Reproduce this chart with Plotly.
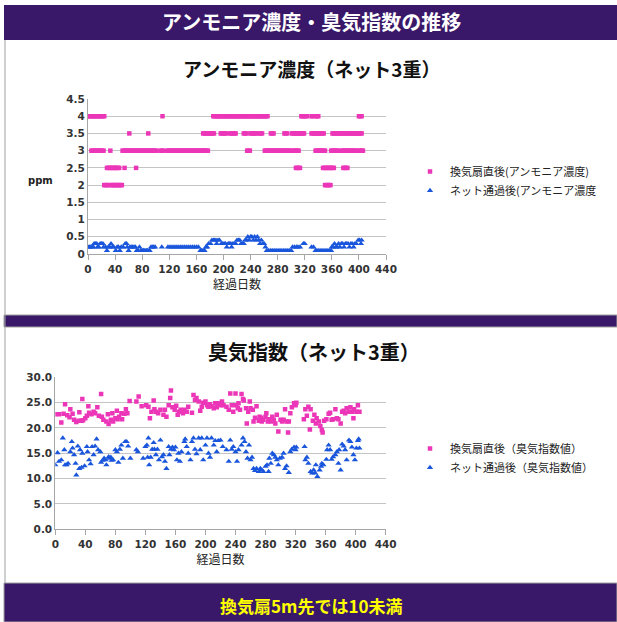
import plotly.graph_objects as go

# ---------------- data ----------------
# Ammonia concentration (ppm) right after fan, grouped by level (days)
amm_fan_days_40 = [0, 2, 4, 6, 8, 10, 12, 14, 16, 18, 20, 22, 24, 110,
                   185, 187, 189, 191, 193, 195, 197, 199, 201, 203, 205, 207, 209, 211, 213, 215,
                   217, 219, 221, 223, 225, 227, 229, 231, 233, 235, 237, 239, 241, 243, 245, 247,
                   249, 251, 253, 255, 257, 259, 261, 263, 265,
                   315, 317, 319, 321, 323, 330, 331, 336, 338, 340, 400, 402, 404]
amm_fan_days_35 = [61, 89, 170, 172, 174, 176, 178, 180, 182, 184, 186,
                   196, 198, 200, 202, 204, 210, 212, 214, 216, 218, 230, 232, 234,
                   240, 242, 244, 246, 248, 253, 255, 257, 270, 272, 274, 290, 292, 294,
                   301, 303, 305, 307, 309, 311, 313, 315, 317, 319,
                   330, 332, 334, 336, 338, 340, 342, 344, 346, 348,
                   361, 363, 365, 367, 369, 371, 373, 375, 377, 379,
                   382, 384, 386, 388, 390, 392, 394, 396, 398, 400, 402, 404]
amm_fan_days_30 = [5, 7, 9, 11, 13, 15, 17, 19, 21, 23, 33,
                   51, 53, 55, 57, 59, 61, 63, 65, 67, 69, 71, 73, 75, 77, 79, 81, 83, 85, 87, 89,
                   91, 93, 95, 97, 99, 101, 107, 109, 111,
                   117, 119, 121, 123, 125, 127, 129, 131, 133, 135, 137, 139, 141, 143, 145, 147,
                   149, 151, 153, 155, 157, 159, 161, 163, 165, 167, 169, 171, 173, 175, 177,
                   235, 237, 239,
                   261, 263, 265, 267, 269, 271, 273, 275, 277, 279, 281, 283, 285, 287, 289, 291,
                   293, 295, 297, 299, 303, 305, 307, 309, 311,
                   336, 338, 340, 342, 344, 346, 348, 350, 359, 361, 363, 365, 367, 369,
                   374, 376, 378, 380, 382, 384, 386, 388, 390, 392, 394, 396, 400, 402, 404, 406]
amm_fan_days_25 = [28, 30, 32, 34, 36, 38, 40, 42, 44, 46, 54, 71, 307, 309, 311, 313,
                   347, 349, 351, 353, 355, 357, 359, 361, 363, 377, 379, 381, 383]
amm_fan_days_20 = [24, 26, 28, 30, 34, 36, 38, 40, 42, 44, 46, 48, 50,
                   350, 352, 354, 356, 358]

# Ammonia concentration (ppm) after passing the net
amm_net_days = [0, 2, 4, 6, 8, 9, 11, 13, 14, 16, 18, 20, 22, 23, 26, 28, 30, 32, 34, 36, 38,
                41, 43, 45, 47, 49, 52, 55, 57, 58, 60, 62, 64, 66, 68, 70, 72, 74, 76, 78, 80,
                82, 84, 86, 88, 91, 93, 95, 97, 99, 109, 118, 121, 124, 127, 130, 133, 136, 139,
                142, 145, 148, 151, 154, 157, 160, 163, 166, 168, 170, 172, 174, 176, 178, 181,
                183, 185, 187, 189, 190, 192, 194, 197, 199, 201, 203, 205, 207, 209, 211, 212,
                214, 216, 218, 220, 222, 224, 226, 228, 230, 232, 234, 236, 238, 240, 242, 244,
                246, 248, 250, 252, 254, 256, 258, 260, 262, 264, 267, 270, 273, 276, 279, 282,
                285, 288, 291, 294, 297, 300, 302, 305, 308, 310, 313, 318, 320, 330, 333, 336,
                338, 341, 344, 347, 350, 353, 356, 359, 360, 362, 364, 366, 368, 370, 372, 374,
                376, 378, 380, 382, 384, 386, 388, 390, 392, 394, 396, 399, 401, 403, 404]
amm_net_ppm = [0.2, 0.2, 0.2, 0.2, 0.2, 0.3, 0.3, 0.3, 0.2, 0.2, 0.3, 0.3, 0.3, 0.2, 0.2, 0.1, 0.2,
               0.2, 0.3, 0.2, 0.2, 0.1, 0.2, 0.2, 0.1, 0.2, 0.2, 0.3, 0.3, 0.2, 0.1, 0.2, 0.2, 0.2,
               0.2, 0.2, 0.1, 0.1, 0.2, 0.1, 0.1, 0.1, 0.1, 0.1, 0.1, 0.1, 0.2, 0.2, 0.2, 0.2, 0.2,
               0.2, 0.2, 0.2, 0.2, 0.2, 0.2, 0.2, 0.2, 0.2, 0.2, 0.2, 0.2, 0.2, 0.2, 0.2, 0.2, 0.1,
               0.1, 0.1, 0.1, 0.2, 0.2, 0.3, 0.3, 0.4, 0.4, 0.4, 0.4, 0.3, 0.4, 0.4, 0.3, 0.3, 0.3,
               0.3, 0.2, 0.3, 0.3, 0.3, 0.2, 0.3, 0.3, 0.3, 0.4, 0.4, 0.4, 0.3, 0.3, 0.3, 0.4, 0.4,
               0.5, 0.4, 0.5, 0.5, 0.4, 0.5, 0.4, 0.5, 0.4, 0.3, 0.4, 0.3, 0.3, 0.2, 0.1, 0.1, 0.1,
               0.1, 0.1, 0.1, 0.1, 0.1, 0.1, 0.1, 0.1, 0.1, 0.1, 0.2, 0.2, 0.2, 0.2, 0.2, 0.3, 0.3,
               0.2, 0.2, 0.1, 0.1, 0.1, 0.1, 0.1, 0.1, 0.1, 0.1, 0.1, 0.2, 0.2, 0.3, 0.2, 0.2, 0.3,
               0.2, 0.3, 0.3, 0.2, 0.3, 0.3, 0.3, 0.2, 0.3, 0.3, 0.2, 0.3, 0.3, 0.4, 0.4, 0.3, 0.4]

# Odour index right after fan
odor_fan_days = [0, 5, 8, 11, 13, 16, 19, 20, 23, 25, 28, 31, 32, 35, 36, 37, 40, 42, 44, 45, 48,
                 51, 53, 56, 58, 61, 62, 64, 68, 70, 71, 74, 76, 77, 80, 82, 83, 85, 88, 89, 92,
                 94, 96, 99, 108, 111, 115, 121, 124, 126, 128, 131, 132, 134, 137, 140, 144, 146,
                 148, 151, 153, 154, 156, 159, 161, 163, 165, 167, 170, 172, 175, 177, 182, 184,
                 186, 188, 191, 193, 195, 197, 200, 202, 204, 206, 208, 211, 213, 215, 218, 220,
                 222, 224, 228, 231, 233, 235, 237, 240, 241, 243, 244, 246, 248, 250, 251, 254,
                 255, 257, 259, 260, 263, 264, 266, 268, 271, 272, 274, 275, 277, 280, 281, 283,
                 285, 287, 289, 291, 293, 295, 297, 300, 302, 304, 306, 308, 310, 311, 313, 315,
                 318, 320, 321, 331, 333, 335, 337, 339, 340, 343, 345, 347, 348, 351, 353, 355,
                 356, 358, 361, 364, 366, 368, 370, 373, 375, 377, 380, 382, 384, 386, 388, 391,
                 393, 395, 397, 398, 401, 403, 405]
odor_fan_val = [22.7, 22.7, 21.1, 22.8, 24.7, 22.5, 22.1, 23.7, 22.8, 21.6, 21.2, 21.4, 23.1, 21.4,
                25.7, 21.5, 21.9, 22.4, 24.3, 23.0, 22.7, 23.2, 22.9, 24.1, 22.4, 26.7, 22.2, 21.6,
                21.3, 22.7, 20.8, 21.6, 22.9, 21.3, 21.9, 23.4, 21.7, 22.2, 22.9, 21.7, 22.8, 23.7,
                22.9, 25.3, 25.2, 26.2, 24.3, 24.5, 24.2, 21.9, 23.2, 25.4, 23.7, 23.2, 22.9, 23.6,
                22.6, 23.6, 22.2, 24.5, 25.9, 27.4, 24.1, 23.6, 24.4, 22.6, 23.2, 23.6, 22.9, 23.6,
                23.2, 24.2, 23.0, 26.5, 25.5, 25.9, 25.2, 23.4, 24.2, 25.0, 25.2, 24.5, 24.2, 24.7,
                24.3, 23.9, 24.9, 24.1, 24.9, 24.5, 25.2, 24.5, 24.2, 23.6, 26.8, 24.5, 23.2, 26.8,
                24.5, 23.9, 24.9, 23.6, 26.7, 25.7, 25.4, 23.9, 20.9, 23.2, 25.2, 23.9, 23.6, 21.3,
                22.0, 24.3, 21.4, 22.2, 22.0, 21.3, 21.6, 22.2, 22.9, 21.3, 21.7, 21.3, 22.2, 21.6,
                20.9, 22.6, 19.3, 21.6, 21.3, 21.6, 23.7, 21.3, 19.1, 21.3, 22.9, 24.1, 24.9, 24.5,
                25.0, 21.7, 23.7, 22.4, 24.2, 19.7, 23.7, 21.4, 22.6, 20.9, 21.9, 21.3, 20.4, 19.6,
                19.1, 21.4, 21.7, 22.8, 23.0, 21.6, 21.7, 23.7, 21.9, 21.7, 20.9, 23.2, 23.4, 22.9,
                23.9, 23.2, 24.1, 23.2, 21.9, 23.7, 23.2, 24.5, 23.2]

# Odour index after passing the net
odor_net_days = [0, 3, 5, 8, 10, 12, 13, 15, 17, 20, 22, 23, 25, 27, 28, 30, 32, 33, 35, 36, 39,
                 42, 43, 45, 47, 49, 51, 53, 55, 57, 60, 61, 63, 65, 67, 68, 71, 72, 74, 75, 77,
                 80, 82, 84, 86, 88, 90, 93, 95, 97, 100, 108, 110, 117, 120, 122, 123, 124, 125,
                 127, 129, 131, 132, 134, 136, 138, 140, 142, 144, 146, 148, 151, 152, 154, 156,
                 158, 160, 162, 164, 166, 168, 172, 173, 175, 177, 180, 182, 184, 186, 188, 191,
                 193, 195, 197, 200, 202, 204, 206, 208, 211, 213, 215, 217, 220, 223, 228, 231,
                 233, 235, 237, 240, 242, 244, 248, 250, 252, 254, 256, 258, 260, 262, 264, 266,
                 268, 271, 273, 275, 277, 280, 282, 284, 285, 287, 289, 291, 293, 295, 297, 299,
                 302, 304, 306, 308, 311, 313, 315, 318, 320, 321, 332, 333, 335, 337, 340, 342,
                 344, 346, 347, 349, 352, 354, 355, 357, 361, 362, 364, 366, 368, 370, 373, 375,
                 377, 378, 380, 382, 384, 386, 388, 391, 393, 395, 397, 399, 401, 403, 404, 405]
odor_net_val = [12.7, 15.1, 13.4, 13.7, 18.0, 15.7, 12.7, 12.7, 13.0, 15.3, 17.3, 16.0, 14.7, 13.0,
                10.7, 16.4, 12.0, 15.7, 12.2, 15.0, 12.5, 16.3, 15.3, 13.7, 12.9, 16.3, 14.7, 16.4,
                17.8, 15.7, 15.3, 13.2, 13.6, 14.0, 13.7, 12.7, 14.3, 14.0, 14.2, 13.6, 13.7, 15.7,
                15.3, 13.2, 15.8, 16.6, 14.0, 17.3, 17.3, 16.4, 14.0, 15.7, 15.3, 14.0, 16.3, 16.6,
                14.2, 18.0, 12.7, 14.2, 15.8, 17.1, 15.8, 14.7, 15.8, 13.7, 17.6, 14.3, 14.7, 13.4,
                12.0, 16.3, 14.7, 15.8, 16.2, 15.7, 16.2, 13.7, 15.0, 13.4, 15.3, 17.3, 17.8, 16.3,
                15.0, 13.7, 17.3, 18.0, 15.8, 14.9, 18.0, 15.7, 18.0, 13.7, 16.6, 18.0, 15.0, 14.2,
                18.0, 16.6, 17.5, 15.3, 17.5, 17.6, 16.3, 15.7, 13.4, 17.6, 15.8, 16.3, 15.3, 13.4,
                15.7, 16.6, 18.0, 17.3, 15.3, 14.0, 16.6, 13.7, 14.2, 12.0, 11.6, 12.0, 11.4, 12.0,
                11.7, 11.4, 12.4, 12.7, 11.4, 14.0, 13.0, 15.0, 14.7, 14.2, 13.7, 12.7, 14.0, 14.2,
                15.0, 12.0, 12.5, 11.2, 15.3, 15.8, 16.2, 15.7, 16.2, 16.3, 13.7, 14.2, 13.0, 11.4,
                11.1, 11.7, 11.1, 12.7, 10.4, 11.7, 12.4, 13.0, 12.7, 13.8, 15.7, 16.6, 15.7, 13.8,
                14.3, 14.7, 15.3, 13.0, 15.7, 11.7, 16.8, 16.4, 15.7, 13.7, 17.6, 17.3, 16.2, 14.7,
                13.7, 16.0, 17.5, 17.8, 16.0]

x_ticks = [0, 40, 80, 120, 160, 200, 240, 280, 320, 360, 400, 440]

# ---------------- figure ----------------
W, H = 617, 622
def px(x):
    return x / W
def py(y):
    return 1 - y / H

PINK = "#ec36b8"
BLUE = "#1a56dc"
GRID = "#c4c4c4"
PURPLE = "#3a1869"
JP = "Noto Sans CJK JP"
NUMF = dict(family="DejaVu Sans", size=10.5, color="#333333", weight="bold")

amm_fan_x = amm_fan_days_40 + amm_fan_days_35 + amm_fan_days_30 + amm_fan_days_25 + amm_fan_days_20
amm_fan_y = ([4.0] * len(amm_fan_days_40) + [3.5] * len(amm_fan_days_35) +
             [3.0] * len(amm_fan_days_30) + [2.5] * len(amm_fan_days_25) +
             [2.0] * len(amm_fan_days_20))

fig = go.Figure()
fig.add_trace(go.Scatter(x=amm_fan_x, y=amm_fan_y, mode="markers", name="換気扇直後(アンモニア濃度)",
                         marker=dict(symbol="square", size=4.5, color=PINK),
                         xaxis="x", yaxis="y", legend="legend"))
fig.add_trace(go.Scatter(x=amm_net_days, y=amm_net_ppm, mode="markers", name="ネット通過後(アンモニア濃度",
                         marker=dict(symbol="triangle-up", size=5.5, color=BLUE),
                         xaxis="x", yaxis="y", legend="legend"))
fig.add_trace(go.Scatter(x=odor_fan_days, y=odor_fan_val, mode="markers", name="換気扇直後（臭気指数値）",
                         marker=dict(symbol="square", size=4.5, color=PINK),
                         xaxis="x2", yaxis="y2", legend="legend2"))
fig.add_trace(go.Scatter(x=odor_net_days, y=odor_net_val, mode="markers", name="ネット通過後（臭気指数値）",
                         marker=dict(symbol="triangle-up", size=5.5, color=BLUE),
                         xaxis="x2", yaxis="y2", legend="legend2"))

axis_common = dict(showline=True, linecolor="#a6a6a6", linewidth=1, zeroline=False,
                   tickfont=NUMF)

fig.update_layout(
    width=W, height=H, autosize=False, margin=dict(l=0, r=0, t=0, b=0, autoexpand=False),
    paper_bgcolor="white", plot_bgcolor="white",
    font=dict(family=JP, color="#222222"),
    xaxis=dict(domain=[px(88), px(386)], range=[0, 440], tickvals=x_ticks,
               ticks="outside", ticklen=5, tickcolor="#a6a6a6", showgrid=False,
               anchor="y", title=dict(text="経過日数", font=dict(family=JP, size=12, color="#222222"), standoff=5),
               **axis_common),
    yaxis=dict(domain=[py(254), py(99)], range=[0, 4.5], dtick=0.5, showgrid=True,
               gridcolor=GRID, gridwidth=1, ticks="", anchor="x", **axis_common),
    xaxis2=dict(domain=[px(55.3), px(385.7)], range=[0, 440], tickvals=x_ticks,
                ticks="outside", ticklen=5, tickcolor="#a6a6a6", showgrid=False,
                anchor="y2", title=dict(text="経過日数", font=dict(family=JP, size=12, color="#222222"), standoff=5),
                **axis_common),
    yaxis2=dict(domain=[py(529.3), py(377.3)], range=[0, 30], dtick=5, tickformat=".1f",
                showgrid=True, gridcolor=GRID, gridwidth=1, ticks="", anchor="x2", **axis_common),
    legend=dict(x=px(410), y=py(157), xanchor="left", yanchor="top",
                font=dict(family=JP, size=11, color="#222222"), bgcolor="rgba(0,0,0,0)",
                itemwidth=30, tracegroupgap=0),
    legend2=dict(x=px(410), y=py(434), xanchor="left", yanchor="top",
                 font=dict(family=JP, size=11, color="#222222"), bgcolor="rgba(0,0,0,0)",
                 itemwidth=30, tracegroupgap=0),
)

shapes = [
    dict(type="rect", xref="paper", yref="paper", x0=px(4), x1=1, y0=py(40), y1=py(5),
         fillcolor=PURPLE, line=dict(width=0), layer="below"),
    dict(type="rect", xref="paper", yref="paper", x0=px(4), x1=1, y0=py(327), y1=py(315),
         fillcolor=PURPLE, line=dict(color="#a0a0a0", width=1), layer="below"),
    dict(type="rect", xref="paper", yref="paper", x0=px(4), x1=1, y0=0, y1=py(583),
         fillcolor=PURPLE, line=dict(color="#a0a0a0", width=1), layer="below"),
    dict(type="line", xref="paper", yref="paper", x0=px(5), x1=px(5), y0=py(583), y1=py(40),
         line=dict(color="#a0a0a0", width=1)),
]
fig.update_layout(shapes=shapes)

def ann(text, x, y, font):
    return dict(text=text, x=px(x), y=py(y), xref="paper", yref="paper", showarrow=False,
                xanchor="center", yanchor="middle", font=font)

annotations = [
    ann("アンモニア濃度・臭気指数の推移", 312, 22, dict(family=JP, size=20, color="white", weight="bold")),
    ann("アンモニア濃度（ネット3重）", 311, 68, dict(family=JP, size=19, color="#111111", weight="bold")),
    ann("臭気指数（ネット3重）", 314, 351, dict(family=JP, size=20, color="#111111", weight="bold")),
    ann("ppm", 40, 180, dict(family="DejaVu Sans", size=10, color="#222222", weight="bold")),
    ann("換気扇5m先では10未満", 311, 605, dict(family=JP, size=17, color="#ffff00", weight="bold")),
]
fig.update_layout(annotations=annotations)

post = ("document.documentElement.style.margin='0';document.body.style.margin='0';"
        "document.body.style.padding='0';document.body.style.overflow='hidden';"
        "var gd=document.getElementById('{plot_id}');"
        "Plotly.relayout(gd,{width:617,height:622});")

fig.write_html("out.html", post_script=post)
